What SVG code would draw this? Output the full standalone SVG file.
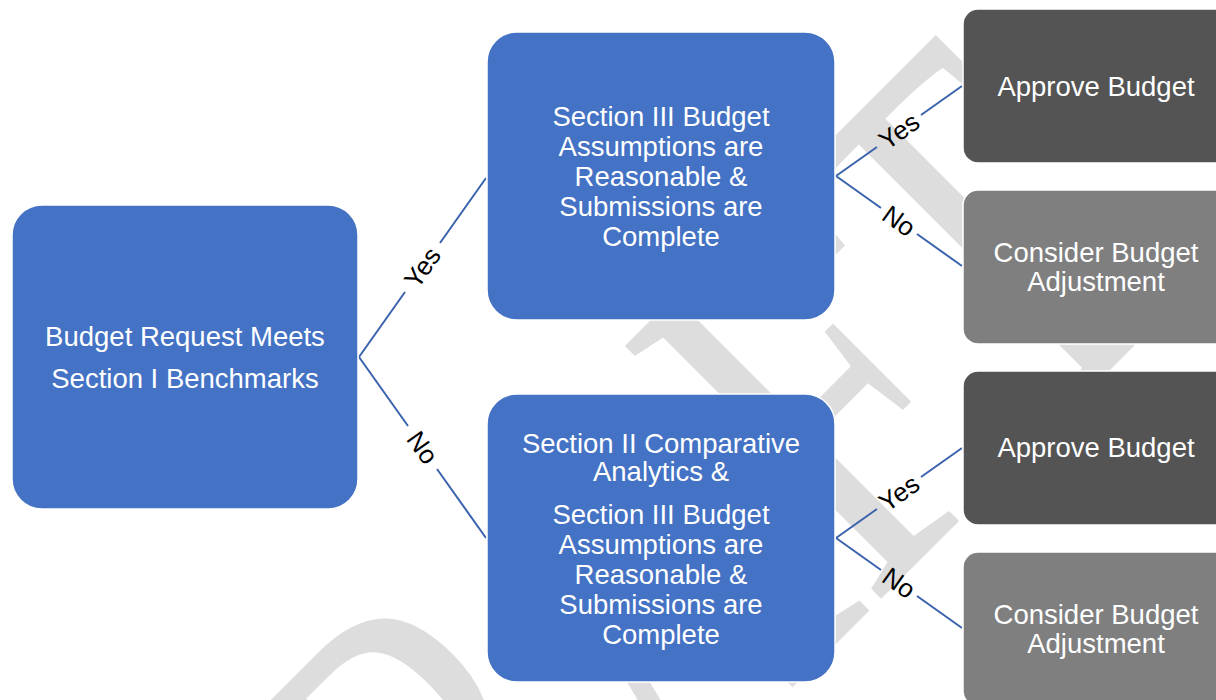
<svg xmlns="http://www.w3.org/2000/svg" width="1216" height="700" viewBox="0 0 1216 700">
<style>
.wm{font-family:"Liberation Serif","Times New Roman",serif;font-size:550px;fill:#dddddd}
.blue{fill:#4472c4;stroke:#ffffff;stroke-width:1.5}
.dark{fill:#545454;stroke:#ffffff;stroke-width:1.5}
.mid{fill:#7f7f7f;stroke:#ffffff;stroke-width:1.5}
.nt{font-family:"Liberation Sans",Arial,sans-serif;font-size:27.5px;fill:#ffffff;text-anchor:middle}
.ln{stroke:#3a62ad;stroke-width:2;fill:none}
.lb{font-family:"Liberation Sans",Arial,sans-serif;font-size:26px;fill:#000000;text-anchor:middle}
</style>
<rect width="1216" height="700" fill="#ffffff"/>
<g id="watermark">
<text class="wm" transform="translate(286,1194) rotate(-45) scale(0.713,1)" x="0" y="0">DRAFT</text>
</g>
<g id="connectors">
<path class="ln" d="M359,357 L405,292 M440,243 L486,178"/>
<path class="ln" d="M359,357 L408,426 M437,469 L486,538"/>
<path class="ln" d="M836,176 L877,147 M921,115 L962,86"/>
<path class="ln" d="M836,176 L881,208 M917,234 L962,266"/>
<path class="ln" d="M836,538 L877,509 M921,477 L962,448"/>
<path class="ln" d="M836,538 L881,570 M917,596 L962,628"/>
<text class="lb" transform="translate(422.5,267.5) rotate(-54.6)" dy="9">Yes</text>
<text class="lb" transform="translate(422.5,447.5) rotate(54.6)" dy="9">No</text>
<text class="lb" transform="translate(899,131) rotate(-35.5)" dy="9">Yes</text>
<text class="lb" transform="translate(899,221) rotate(35.5)" dy="9">No</text>
<text class="lb" transform="translate(899,493) rotate(-35.5)" dy="9">Yes</text>
<text class="lb" transform="translate(899,583) rotate(35.5)" dy="9">No</text>
</g>
<g id="n_start">
<rect class="blue" x="12" y="205" width="346" height="304" rx="30"/>
<text class="nt" x="185" y="346">Budget Request Meets</text>
<text class="nt" x="185" y="388">Section I Benchmarks</text>
</g>
<g id="n_sec3">
<rect class="blue" x="487" y="32" width="348" height="288" rx="30"/>
<text class="nt" x="661" y="126">Section III Budget</text>
<text class="nt" x="661" y="156">Assumptions are</text>
<text class="nt" x="661" y="186">Reasonable &amp;</text>
<text class="nt" x="661" y="216">Submissions are</text>
<text class="nt" x="661" y="246">Complete</text>
</g>
<g id="n_sec2">
<rect class="blue" x="487" y="394" width="348" height="288" rx="30"/>
<text class="nt" x="661" y="453">Section II Comparative</text>
<text class="nt" x="661" y="481">Analytics &amp;</text>
<text class="nt" x="661" y="524">Section III Budget</text>
<text class="nt" x="661" y="554">Assumptions are</text>
<text class="nt" x="661" y="584">Reasonable &amp;</text>
<text class="nt" x="661" y="614">Submissions are</text>
<text class="nt" x="661" y="644">Complete</text>
</g>
<g id="n_approve1">
<rect class="dark" x="963" y="9" width="270" height="154" rx="15"/>
<text class="nt" x="1096" y="96">Approve Budget</text>
</g>
<g id="n_consider1">
<rect class="mid" x="963" y="190" width="270" height="154" rx="15"/>
<text class="nt" x="1096" y="262">Consider Budget</text>
<text class="nt" x="1096" y="291">Adjustment</text>
</g>
<g id="n_approve2">
<rect class="dark" x="963" y="371" width="270" height="154" rx="15"/>
<text class="nt" x="1096" y="457">Approve Budget</text>
</g>
<g id="n_consider2">
<rect class="mid" x="963" y="552" width="270" height="154" rx="15"/>
<text class="nt" x="1096" y="624">Consider Budget</text>
<text class="nt" x="1096" y="653">Adjustment</text>
</g>
</svg>
